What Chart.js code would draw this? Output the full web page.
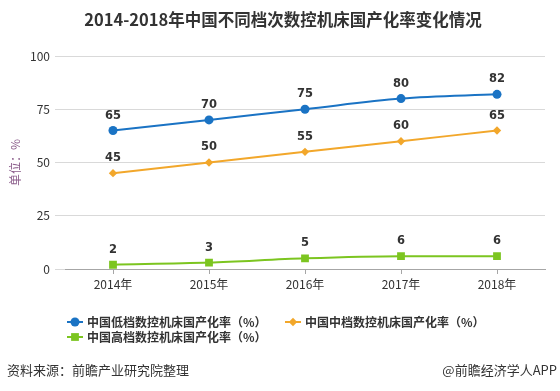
<!DOCTYPE html>
<html><head><meta charset="utf-8">
<script src="https://cdn.jsdelivr.net/npm/chart.js@4/dist/chart.umd.min.js"></script>
<style>html,body{margin:0;padding:0;background:#fff;}#wrap{width:560px;height:391px;position:relative;}</style>
</head><body><div id="wrap"><canvas id="c" width="560" height="391"></canvas></div>
<script>
const categories = ['2014年','2015年','2016年','2017年','2018年'];
const lowEnd = [65,70,75,80,82];
const midEnd = [45,50,55,60,65];
const highEnd = [2,3,5,6,6];
const seriesNames = ['中国低档数控机床国产化率（%）','中国中档数控机床国产化率（%）','中国高档数控机床国产化率（%）'];
const yTickStep = 25;
const yMax = 100;
const titleText = '2014-2018年中国不同档次数控机床国产化率变化情况';
const yAxisTitle = '单位：%';
const sourceText = '资料来源：前瞻产业研究院整理';
const brandText = '@前瞻经济学人APP';

const CJK = '"Noto Sans CJK SC", "Liberation Sans", sans-serif';
const colors = ['#1a73c4', '#f2a72b', '#7cc520'];
const styles = ['circle', 'rectRot', 'rect'];
const radii = [4.5, 4.2, 5.5];

function drawMarker(ctx, style, x, y, r, color){
  ctx.fillStyle = color;
  ctx.beginPath();
  if(style==='circle'){ ctx.arc(x,y,r,0,Math.PI*2); }
  else if(style==='rectRot'){ ctx.moveTo(x,y-r); ctx.lineTo(x+r,y); ctx.lineTo(x,y+r); ctx.lineTo(x-r,y); ctx.closePath(); }
  else { const s=r*Math.SQRT1_2; ctx.rect(x-s,y-s,2*s,2*s); }
  ctx.fill();
}

const valueLabels = {
  id:'valueLabels',
  afterDatasetsDraw(chart){
    const ctx = chart.ctx;
    ctx.save();
    ctx.font = 'bold 11.5px "DejaVu Sans"';
    ctx.fillStyle = '#333';
    ctx.textAlign='center'; ctx.textBaseline='middle';
    chart.data.datasets.forEach((ds,i)=>{
      const meta = chart.getDatasetMeta(i);
      meta.data.forEach((pt,j)=>{
        ctx.fillText(String(ds.data[j]), pt.x, pt.y-15);
      });
    });
    ctx.restore();
  }
};

const decorations = {
  id:'decorations',
  afterDraw(chart){
    const ctx = chart.ctx;
    ctx.save();
    ctx.font = 'bold 16.5px ' + CJK;
    ctx.fillStyle = '#333';
    ctx.textAlign = 'center'; ctx.textBaseline = 'middle';
    ctx.fillText(titleText, 283, 20);
    const pos = [[67,322],[285,322],[67,337]];
    chart.data.datasets.forEach((ds,i)=>{
      const [x,y] = pos[i];
      ctx.strokeStyle = colors[i]; ctx.lineWidth = 2;
      ctx.beginPath(); ctx.moveTo(x,y); ctx.lineTo(x+16,y); ctx.stroke();
      drawMarker(ctx, styles[i], x+8, y, radii[i], colors[i]);
      ctx.font = 'bold 12px ' + CJK;
      ctx.fillStyle = '#333';
      ctx.textAlign = 'left'; ctx.textBaseline = 'middle';
      ctx.fillText(ds.label, x+20, y);
    });
    ctx.font = '13px ' + CJK;
    ctx.fillStyle = '#333';
    ctx.textAlign = 'left';
    ctx.fillText(sourceText, 7, 370);
    ctx.textAlign = 'right';
    ctx.fillText(brandText, 557, 370);
    ctx.restore();
  }
};

const datasetsSrc = [lowEnd, midEnd, highEnd];
new Chart(document.getElementById('c'), {
  type:'line',
  data:{
    labels: categories,
    datasets: datasetsSrc.map((d,i)=>({
      label: seriesNames[i],
      data: d,
      borderColor: colors[i],
      backgroundColor: colors[i],
      borderWidth: 2,
      pointStyle: styles[i],
      pointRadius: radii[i],
      pointBackgroundColor: colors[i],
      pointBorderWidth: 0,
      cubicInterpolationMode: 'monotone',
      fill:false
    }))
  },
  options:{
    responsive:false,
    animation:false,
    devicePixelRatio:1,
    layout:{padding:{top:56,bottom:92,left:0,right:15}},
    plugins:{legend:{display:false}, title:{display:false}, tooltip:{enabled:false}},
    scales:{
      x:{
        type:'category',
        offset:true,
        grid:{display:true, drawOnChartArea:false, drawTicks:true, tickLength:5, offset:false, color:'#a6a6a6'},
        border:{display:true, color:'#a6a6a6', width:1},
        ticks:{padding:3, color:'#333', font:{size:12, family:CJK}},
        afterFit(s){ s.height = 30; }
      },
      y:{
        min:0, max:yMax,
        ticks:{stepSize:yTickStep, padding:5, color:'#333', font:{size:12, family:CJK}},
        grid:{color:'#d9d9d9', tickLength:10, drawTicks:true},
        border:{display:false},
        title:{display:true, text:yAxisTitle, color:'#8a5c8a', font:{size:12, family:CJK}, padding:{top:8,bottom:0}},
        afterFit(s){ s.width = 65; }
      }
    }
  },
  plugins:[valueLabels, decorations]
});
</script></body></html>
